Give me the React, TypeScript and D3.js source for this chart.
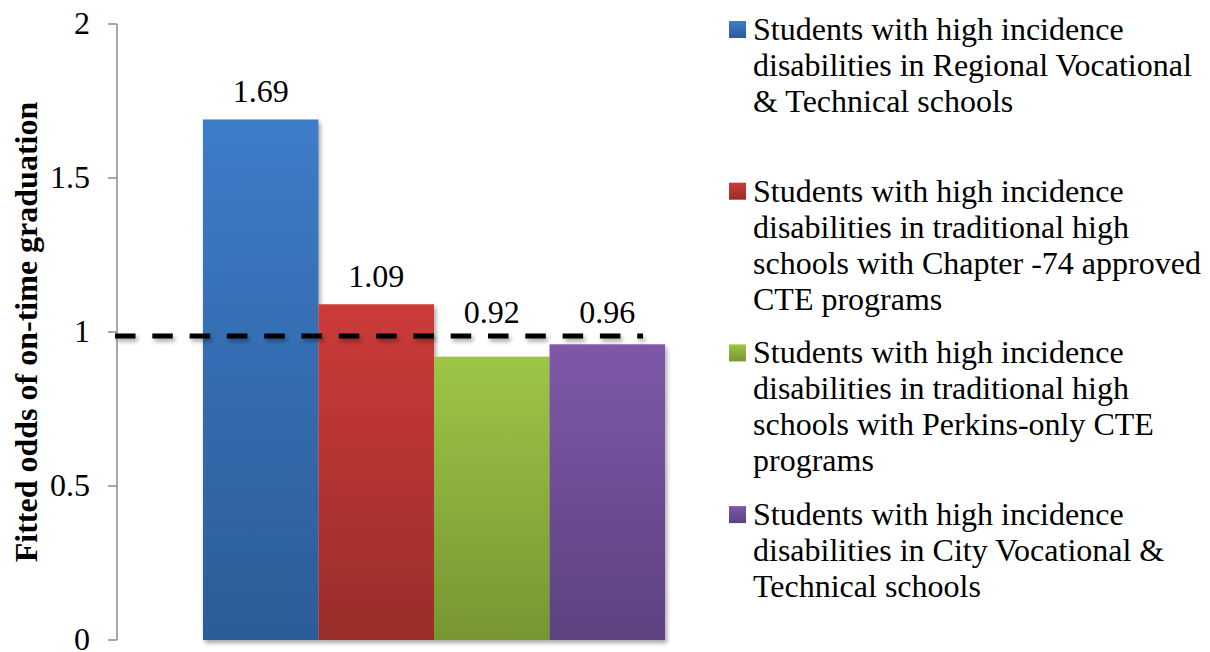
import React from 'react';
import * as d3 from 'd3';

// Values
const groups: string[] = ['High incidence disabilities'];
const series: string[] = ['Regional Voc-Tech', 'Chapter 74 CTE', 'Perkins-only CTE', 'City Voc-Tech'];
const odds: number[] = [1.69, 1.09, 0.92, 0.96];
const oddsLabels: string[] = ['1.69', '1.09', '0.92', '0.96'];
const yTicks: number[] = [0, 0.5, 1, 1.5, 2];
const referenceOdds: number[] = [0.987];
const legendLines: string[][] = [
  ['Students with high incidence', 'disabilities in Regional Vocational', '& Technical schools'],
  ['Students with high incidence', 'disabilities in traditional high', 'schools with Chapter -74 approved', 'CTE programs'],
  ['Students with high incidence', 'disabilities in traditional high', 'schools with Perkins-only CTE', 'programs'],
  ['Students with high incidence', 'disabilities in City Vocational &', 'Technical schools'],
];
const yTitle = 'Fitted odds of on-time graduation';

const colorsTop = ['#3d7cc9', '#cc3b38', '#9dc546', '#7e58a9'];
const colorsBottom = ['#2c5c97', '#9a2d2b', '#779632', '#5d4280'];

const W = 1210;
const H = 652;
const FONT = '"Liberation Serif", "DejaVu Serif", serif';

const App: React.FC = () => {
  const plotLeft = 117;
  const plotRight = 751;
  const plotTop = 24;
  const plotBottom = 640;

  const y = d3.scaleLinear().domain([0, 2]).range([plotBottom, plotTop]);
  const xGroup = d3.scaleBand<string>().domain(groups).range([plotLeft, plotRight]).paddingOuter(0.186).paddingInner(0);
  const xSeries = d3
    .scaleBand<string>()
    .domain(series)
    .range([xGroup(groups[0]) as number, (xGroup(groups[0]) as number) + xGroup.bandwidth()]);

  const refY = y(referenceOdds[0]);
  const refLine = d3.line<number>().x((d) => d).y(() => refY);

  // legend slots are evenly spaced like Excel does it
  const legendX = 729;
  const legendTop = 40;
  const legendStep = 161.7;
  const lineH = 36;

  return (
    <svg width={W} height={H} style={{ position: 'absolute', left: 0, top: 0, background: '#fff' }}>
      <defs>
        {series.map((s, i) => (
          <linearGradient key={s} id={`grad${i}`} x1="0" y1="0" x2="0" y2="1">
            <stop offset="0%" stopColor={colorsTop[i]} />
            <stop offset="100%" stopColor={colorsBottom[i]} />
          </linearGradient>
        ))}
        <filter id="shadow" filterUnits="userSpaceOnUse" x="0" y="0" width={W} height={H}>
          <feDropShadow dx="2" dy="3" stdDeviation="2" floodColor="#000" floodOpacity="0.35" />
        </filter>
      </defs>

      {/* y axis */}
      <line x1={plotLeft} x2={plotLeft} y1={y(2)} y2={y(0)} stroke="#8c8c8c" strokeWidth={1.5} />
      {yTicks.map((t) => (
        <g key={t}>
          <line x1={plotLeft - 9} x2={plotLeft} y1={y(t)} y2={y(t)} stroke="#8c8c8c" strokeWidth={1.5} />
          <text x={plotLeft - 27} y={y(t)} dy="0.3em" textAnchor="end" fontFamily={FONT} fontSize={32} fill="#000">
            {t}
          </text>
        </g>
      ))}
      <text
        transform={`translate(37, ${(plotTop + plotBottom) / 2}) rotate(-90)`}
        textAnchor="middle"
        fontFamily={FONT}
        fontWeight="bold"
        fontSize={32}
        fill="#000"
      >
        {yTitle}
      </text>

      {/* bars */}
      <g filter="url(#shadow)">
        {series.map((s, i) => (
          <rect
            key={s}
            x={xSeries(s)}
            y={y(odds[i])}
            width={xSeries.bandwidth()}
            height={y(0) - y(odds[i])}
            fill={`url(#grad${i})`}
          />
        ))}
      </g>

      {/* reference line */}
      <path
        d={refLine([plotLeft - 2, 643]) || ''}
        stroke="#000"
        strokeWidth={5}
        strokeDasharray="20.5 16.8"
        fill="none"
        filter="url(#shadow)"
      />

      {/* value labels */}
      {series.map((s, i) => (
        <text
          key={s}
          x={(xSeries(s) as number) + xSeries.bandwidth() / 2}
          y={Math.min(y(odds[i]) - 17, refY - 13)}
          textAnchor="middle"
          fontFamily={FONT}
          fontSize={32}
          fill="#000"
        >
          {oddsLabels[i]}
        </text>
      ))}

      {/* legend */}
      {legendLines.map((lines, i) => {
        const baseY = legendTop + i * legendStep;
        return (
          <g key={i}>
            <rect x={legendX} y={baseY - 19} width={17} height={17} fill={`url(#grad${i})`} />
            <text fontFamily={FONT} fontSize={32} fill="#000">
              {lines.map((l, j) => (
                <tspan key={j} x={legendX + 24} y={baseY + j * lineH}>
                  {l}
                </tspan>
              ))}
            </text>
          </g>
        );
      })}
    </svg>
  );
};

export default App;
